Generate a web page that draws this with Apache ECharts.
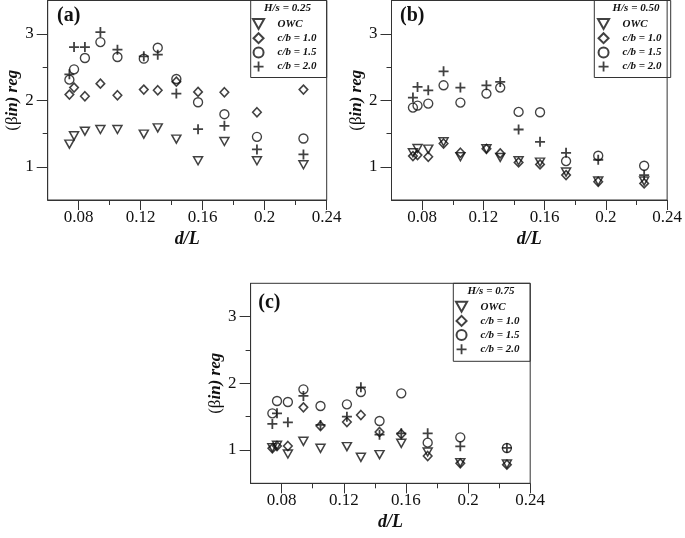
<!DOCTYPE html>
<html>
<head>
<meta charset="utf-8">
<script src="https://cdn.jsdelivr.net/npm/echarts@6.0.0/dist/echarts.min.js"></script>
<style>html,body{margin:0;padding:0;background:#fff;}#c{width:685px;height:538px;}</style>
</head>
<body>
<div id="c"></div>
<script>
// ---- data ----
const dL = [0.074, 0.077, 0.084, 0.094, 0.105, 0.122, 0.131, 0.143, 0.157, 0.174, 0.195, 0.225];
const seriesNames = ['OWC', 'c/b = 1.0', 'c/b = 1.5', 'c/b = 2.0'];
const panelLabels = ['(a)', '(b)', '(c)'];
const panelHs = ['H/s = 0.25', 'H/s = 0.50', 'H/s = 0.75'];
const xMajorTicks = [0.08, 0.12, 0.16, 0.2, 0.24];
const xMinorTicks = [0.1, 0.14, 0.18, 0.22];
const yMajorTicks = [1, 2, 3];
const yMinorTicks = [1.5, 2.5];

// panel (a) H/s = 0.25
const aOWC  = [1.34, 1.465, 1.535, 1.56, 1.56, 1.49, 1.585, 1.415, 1.09, 1.38, 1.09, 1.03];
const aCB10 = [2.085, 2.19, 2.06, 2.25, 2.075, 2.16, 2.15, 2.28, 2.125, 2.12, 1.82, 2.16];
const aCB15 = [2.31, 2.465, 2.635, 2.875, 2.65, 2.625, 2.79, 2.32, 1.97, 1.79, 1.45, 1.425];
const aCB20 = [2.39, 2.8, 2.8, 3.025, 2.76, 2.66, 2.685, 2.1, 1.565, 1.615, 1.26, 1.185];
// panel (b) H/s = 0.50
const bOWC  = [1.21, 1.275, 1.265, 1.375, 1.15, 1.27, 1.14, 1.09, 1.07, 0.92, 0.785, 0.785];
const bCB10 = [1.16, 1.175, 1.15, 1.35, 1.21, 1.27, 1.2, 1.065, 1.035, 0.875, 0.775, 0.75];
const bCB15 = [1.89, 1.92, 1.95, 2.225, 1.965, 2.1, 2.19, 1.825, 1.82, 1.085, 1.165, 1.015];
const bCB20 = [2.04, 2.2, 2.15, 2.435, 2.19, 2.225, 2.275, 1.56, 1.375, 1.21, 1.105, 0.875];
// panel (c) H/s = 0.75
const cOWC  = [1.035, 1.07, 0.94, 1.13, 1.025, 1.05, 0.89, 0.93, 1.1, 0.97, 0.81, 0.79];
const cCB10 = [1.025, 1.06, 1.06, 1.64, 1.36, 1.42, 1.525, 1.27, 1.24, 0.91, 0.8, 0.78];
const cCB15 = [1.55, 1.735, 1.72, 1.91, 1.66, 1.685, 1.87, 1.435, 1.85, 1.11, 1.19, 1.03];
const cCB20 = [1.39, 1.55, 1.415, 1.81, 1.375, 1.5, 1.94, 1.23, 1.25, 1.25, 1.055, 1.03];

const panels = [
  [aOWC, aCB10, aCB15, aCB20],
  [bOWC, bCB10, bCB15, bCB20],
  [cOWC, cCB10, cCB15, cCB20]
];

// ---- layout / style ----
const FONT = 'Liberation Serif';
const INK = '#111';
const grids = [
  { left: 47.7, top: 0.5, width: 279, height: 199.5 },
  { left: 391.5, top: 0.5, width: 278.8, height: 199.5 },
  { left: 250.6, top: 283.3, width: 279.6, height: 200 }
];
const legendPos = [
  { box: [250.7, 0.5, 76, 77], left: 252, top: 17, titleX: 264, titleY: 8 },
  { box: [594.3, 0.5, 76.4, 77], left: 597, top: 17, titleX: 612.5, titleY: 8.5 },
  { box: [453.3, 283.3, 76.9, 78], left: 455, top: 299.7, titleX: 467.5, titleY: 291.5 }
];
const labelPos = [[57, 16], [400, 16], [258.3, 303]];

const symbols = [
  'path://M0,0L10,0L5,9Z',
  'path://M5,0L10,5L5,10L0,5Z',
  'circle',
  'path://M4.1,0H5.9V4.1H10V5.9H5.9V10H4.1V5.9H0V4.1H4.1Z'
];
const symSizes = [[9, 8], [8.5, 9], 9, 10];
const styles = [
  { color: 'rgba(255,255,255,0)', borderColor: INK, borderWidth: 1.5 },
  { color: 'rgba(255,255,255,0)', borderColor: INK, borderWidth: 1.6 },
  { color: 'rgba(255,255,255,0)', borderColor: INK, borderWidth: 1.35 },
  { color: INK, borderWidth: 0 }
];

const fmtX = v => String(parseFloat(Number(v).toFixed(2)));

const xAxis = [], yAxis = [], series = [], legend = [], graphic = [];
grids.forEach((g, p) => {
  xAxis.push({
    gridIndex: p, type: 'value', min: 0.06, max: 0.24, position: 'bottom',
    name: 'd/L', nameLocation: 'middle', nameGap: 30,
    nameTextStyle: { fontFamily: FONT, fontSize: 18, fontWeight: 'bold', fontStyle: 'italic', color: INK },
    axisLine: { show: true, onZero: false, lineStyle: { color: '#333', width: 1 } },
    axisTick: { show: true, customValues: xMajorTicks, length: 10, lineStyle: { color: '#333' } },
    axisLabel: { customValues: xMajorTicks, formatter: fmtX, fontFamily: FONT, fontSize: 17, color: INK, margin: 9 },
    splitLine: { show: false }
  });
  xAxis.push({
    gridIndex: p, type: 'value', min: 0.06, max: 0.24, position: 'bottom',
    axisLine: { show: false, onZero: false },
    axisTick: { show: true, customValues: xMinorTicks, length: 5, lineStyle: { color: '#333' } },
    axisLabel: { show: false },
    splitLine: { show: false }
  });
  yAxis.push({
    gridIndex: p, type: 'value', min: 0.5, max: 3.5, position: 'left',
    name: '{g|(β}{t|in) reg}', nameLocation: 'middle', nameGap: 21, nameRotate: 90,
    nameTextStyle: {
      rich: {
        g: { fontFamily: FONT, fontSize: 17, color: INK },
        t: { fontFamily: FONT, fontSize: 17, fontWeight: 'bold', fontStyle: 'italic', color: INK }
      }
    },
    axisLine: { show: true, onZero: false, lineStyle: { color: '#333', width: 1 } },
    axisTick: { show: true, customValues: yMajorTicks, length: 11, lineStyle: { color: '#333' } },
    axisLabel: { customValues: yMajorTicks, fontFamily: FONT, fontSize: 17, color: INK, margin: 14 },
    splitLine: { show: false }
  });
  yAxis.push({
    gridIndex: p, type: 'value', min: 0.5, max: 3.5, position: 'left',
    axisLine: { show: false, onZero: false },
    axisTick: { show: true, customValues: yMinorTicks, length: 5, lineStyle: { color: '#333' } },
    axisLabel: { show: false },
    splitLine: { show: false }
  });
  panels[p].forEach((vals, s) => {
    series.push({
      type: 'scatter', name: seriesNames[s],
      xAxisIndex: 2 * p, yAxisIndex: 2 * p,
      symbol: symbols[s], symbolSize: symSizes[s],
      itemStyle: styles[s],
      emphasis: { disabled: true },
      data: dL.map((x, i) => [x, vals[i]])
    });
  });
  const L = legendPos[p];
  legend.push({
    orient: 'vertical', left: L.left, top: L.top, padding: 0,
    itemWidth: 28, itemHeight: 10, itemGap: 0.2, symbolKeepAspect: true,
    data: seriesNames, selectedMode: false,
    textStyle: { fontFamily: FONT, fontSize: 11, fontWeight: 'bold', fontStyle: 'italic', color: INK, lineHeight: 14 }
  });
  graphic.push({
    type: 'rect', shape: { x: L.box[0], y: L.box[1], width: L.box[2], height: L.box[3] },
    style: { fill: '#fff', stroke: '#333', lineWidth: 1 }, z: -1
  });
  graphic.push({
    type: 'text', x: L.titleX, y: L.titleY,
    style: { text: panelHs[p], font: 'italic bold 11px "' + FONT + '"', fill: INK, textAlign: 'left', textVerticalAlign: 'middle' }
  });
  graphic.push({
    type: 'text', x: labelPos[p][0], y: labelPos[p][1],
    style: { text: panelLabels[p], font: 'bold 20px "' + FONT + '"', fill: INK, textAlign: 'left', textVerticalAlign: 'middle' }
  });
});

const chart = echarts.init(document.getElementById('c'), null, { renderer: 'canvas' });
chart.setOption({
  animation: false,
  backgroundColor: '#fff',
  grid: grids.map(g => Object.assign({ show: true, borderColor: '#333', borderWidth: 1, backgroundColor: 'transparent' }, g)),
  xAxis, yAxis, series, legend, graphic
});
</script>
</body>
</html>
